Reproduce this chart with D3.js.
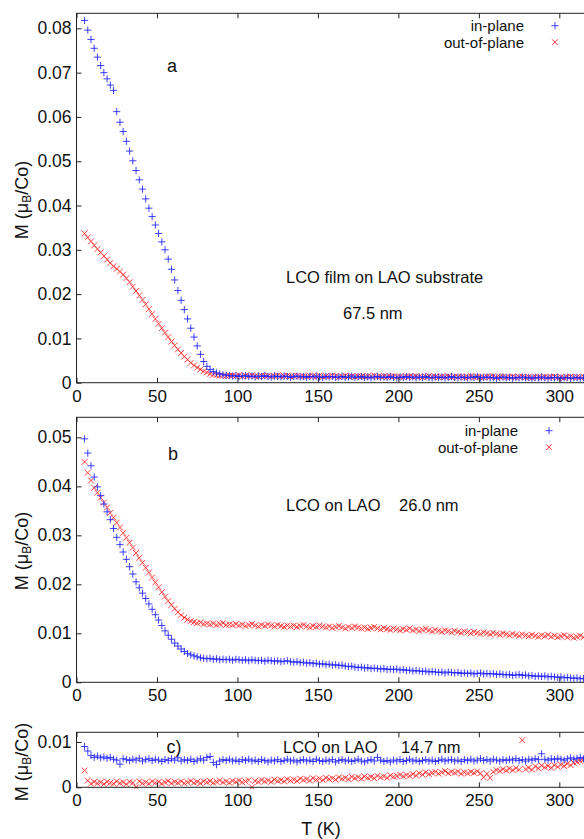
<!DOCTYPE html>
<html><head><meta charset="utf-8">
<script src="https://cdn.jsdelivr.net/npm/d3@7"></script>
<style>
html,body{margin:0;padding:0;background:#fff;}
svg{display:block;font-family:"Liberation Sans",Arial,Helvetica,sans-serif;}
</style></head>
<body><svg id="chart" width="584" height="839"></svg>
<script>
// ---- data ----
const tempK = [5,7,9,11,13,15,17,19,21,23,25,27,29,31,33,35,37,39,41,43,45,47,49,51,53,55,57,59,61,63,65,67,69,71,73,75,77,79,81,83,85,87,89,91,93,95,97,99,101,103,105,107,109,111,113,115,117,119,121,123,125,127,129,131,133,135,137,139,141,143,145,147,149,151,153,155,157,159,161,163,165,167,169,171,173,175,177,179,181,183,185,187,189,191,193,195,197,199,201,203,205,207,209,211,213,215,217,219,221,223,225,227,229,231,233,235,237,239,241,243,245,247,249,251,253,255,257,259,261,263,265,267,269,271,273,275,277,279,281,283,285,287,289,291,293,295,297,299,301,303,305,307,309,311,313,315];

// panel a: 67.5 nm
const aInPlane = [.0818,.0796,.0775,.0755,.0735,.0716,.0700,.0686,.0672,.0660,.0612,.0588,.0567,.0545,.0523,.0501,.0479,.0458,.0437,.0415,
.0394,.0375,.0356,.0337,.0318,.0300,.0279,.0256,.0232,.0208,.0186,.0165,.0144,.0123,.0103,.0083,.0064,.0048,.0037,.0030,
.0025,.0022,.0020,.0018,.0017,.0016,
.0015,.0016,.0014,.0015,.0016,.0014,.0015,.0013,.0015,.0014,.0016,.0014,.0013,.0015,.0014,.0013,.0015,.0014,.0012,.0014,
.0015,.0013,.0014,.0012,.0014,.0013,.0015,.0013,.0012,.0014,.0013,.0014,.0012,.0013,.0014,.0012,.0013,.0015,.0012,.0013,
.0014,.0012,.0013,.0011,.0013,.0014,.0012,.0013,.0012,.0014,.0012,.0011,.0013,.0012,.0014,.0012,.0013,.0011,.0013,.0012,
.0014,.0012,.0011,.0013,.0012,.0013,.0011,.0012,.0014,.0012,.0011,.0013,.0012,.0011,.0013,.0012,.0014,.0011,.0012,.0013,
.0011,.0012,.0010,.0012,.0013,.0011,.0012,.0010,.0012,.0011,.0013,.0011,.0012,.0010,.0012,.0011,.0013,.0011,.0010,.0012,
.0011,.0012,.0010,.0011,.0012,.0010,.0011,.0012,.0010,.0011];
const aOutOfPlane = [.0337,.0328,.0319,.0310,.0302,.0294,.0286,.0278,.0270,.0263,.0257,.0251,.0244,.0236,.0227,.0217,.0207,.0197,.0187,.0177,
.0166,.0155,.0144,.0133,.0123,.0113,.0103,.0093,.0084,.0075,.0067,.0059,.0052,.0045,.0039,.0034,.0030,.0026,.0023,.0020,
.0018,.0017,.0016,.0016,.0015,.0016,
.0016,.0015,.0017,.0014,.0016,.0015,.0017,.0015,.0014,.0016,.0015,.0016,.0014,.0015,.0017,.0014,.0015,.0016,.0014,.0015,
.0016,.0014,.0015,.0013,.0016,.0015,.0014,.0016,.0013,.0015,.0014,.0016,.0015,.0013,.0014,.0016,.0014,.0015,.0013,.0015,
.0014,.0013,.0015,.0014,.0016,.0013,.0014,.0015,.0013,.0014,.0015,.0013,.0014,.0012,.0015,.0014,.0013,.0015,.0014,.0012,
.0014,.0015,.0013,.0014,.0012,.0014,.0013,.0015,.0012,.0014,.0013,.0014,.0012,.0013,.0015,.0012,.0014,.0013,.0012,.0014,
.0013,.0015,.0012,.0013,.0014,.0012,.0013,.0014,.0012,.0013,.0014,.0012,.0013,.0011,.0014,.0013,.0012,.0014,.0012,.0013,
.0014,.0012,.0013,.0011,.0013,.0014,.0012,.0013,.0012,.0014];

// panel b: 26.0 nm
const bInPlane = [.0497,.0468,.0442,.0419,.0399,.0381,.0364,.0348,.0332,.0314,.0296,.0281,.0266,.0251,.0236,.0221,.0205,.0193,.0182,.0171,
.0160,.0149,.0138,.0127,.0116,.0105,.0096,.0088,.0080,.0074,.0068,.0063,.0059,.0056,.0054,.0052,.0050,.0049,.0048,.0049,
.0047,.0048,.0046,.0047,.0046,.0047,
.0045,.0047,.0046,.0045,.0046,.0044,.0046,.0045,.0044,.0045,.0043,.0045,.0044,.0043,.0044,.0042,.0043,.0044,.0042,.0041,
.0042,.0040,.0041,.0039,.0040,.0038,.0039,.0037,.0038,.0036,.0037,.0035,.0036,.0034,.0035,.0033,.0032,.0033,.0031,.0030,
.0031,.0029,.0030,.0028,.0029,.0028,.0027,.0028,.0026,.0027,.0026,.0027,.0025,.0026,.0024,.0025,.0023,.0024,.0023,.0022,
.0023,.0021,.0022,.0021,.0020,.0021,.0019,.0021,.0020,.0019,.0020,.0018,.0019,.0018,.0019,.0017,.0018,.0019,.0017,.0018,
.0017,.0018,.0016,.0017,.0016,.0015,.0016,.0014,.0015,.0016,.0014,.0015,.0013,.0014,.0012,.0013,.0012,.0013,.0011,.0012,
.0011,.0010,.0011,.0009,.0010,.0009,.0008,.0009,.0007,.0008];
const bOutOfPlane = [.0450,.0428,.0412,.0397,.0387,.0377,.0367,.0357,.0346,.0336,.0326,.0316,.0305,.0295,.0285,.0275,.0264,.0254,.0244,.0234,
.0224,.0214,.0204,.0194,.0184,.0175,.0166,.0158,.0150,.0143,.0137,.0132,.0128,.0125,.0123,.0121,.0122,.0119,.0120,.0118,
.0120,.0117,.0119,.0121,.0117,.0118,
.0117,.0119,.0116,.0118,.0115,.0117,.0119,.0116,.0114,.0117,.0115,.0118,.0116,.0114,.0117,.0115,.0113,.0116,.0114,.0116,
.0113,.0115,.0117,.0114,.0112,.0115,.0113,.0116,.0114,.0112,.0114,.0111,.0113,.0115,.0112,.0110,.0113,.0111,.0114,.0112,
.0110,.0112,.0109,.0111,.0113,.0110,.0108,.0111,.0109,.0107,.0110,.0108,.0106,.0109,.0107,.0110,.0106,.0108,.0105,.0107,
.0109,.0106,.0104,.0107,.0105,.0103,.0106,.0104,.0102,.0105,.0103,.0101,.0104,.0102,.0100,.0103,.0101,.0099,.0102,.0100,
.0098,.0101,.0099,.0097,.0100,.0098,.0096,.0099,.0097,.0095,.0098,.0096,.0094,.0097,.0095,.0093,.0096,.0094,.0097,.0093,
.0095,.0092,.0094,.0096,.0092,.0094,.0091,.0093,.0095,.0092];

// panel c: 14.7 nm
const cInPlane = [.0090,.0080,.0070,.0066,.0069,.0065,.0067,.0064,.0066,.0062,.0060,.0051,.0063,.0061,.0059,.0062,.0060,.0064,.0058,.0061,
.0063,.0059,.0062,.0060,.0057,.0061,.0059,.0063,.0060,.0065,.0058,.0061,.0059,.0062,.0057,.0060,.0063,.0060,.0066,.0068,
.0055,.0050,.0058,.0061,.0059,.0062,.0058,.0060,.0057,.0061,.0059,.0062,.0058,.0060,.0057,.0061,.0059,.0056,.0060,.0058,
.0061,.0057,.0059,.0062,.0058,.0060,.0056,.0059,.0061,.0058,.0060,.0057,.0062,.0059,.0057,.0060,.0058,.0061,.0056,.0059,
.0061,.0058,.0060,.0057,.0059,.0062,.0058,.0056,.0059,.0061,.0058,.0066,.0060,.0057,.0059,.0056,.0060,.0058,.0061,.0057,
.0059,.0062,.0058,.0060,.0057,.0059,.0061,.0058,.0060,.0057,.0059,.0062,.0058,.0060,.0061,.0058,.0060,.0057,.0061,.0059,
.0062,.0058,.0060,.0063,.0059,.0061,.0058,.0062,.0060,.0058,.0061,.0059,.0062,.0060,.0063,.0059,.0061,.0058,.0062,.0060,
.0063,.0061,.0074,.0062,.0060,.0063,.0061,.0064,.0062,.0060,.0063,.0065,.0062,.0064,.0066,.0063];
const cOutOfPlane = [.0037,.0015,.0008,.0012,.0009,.0011,.0007,.0012,.0010,.0008,.0013,.0009,.0011,.0007,.0012,.0010,.0000,.0013,.0009,.0011,
.0008,.0013,.0010,.0012,.0008,.0011,.0014,.0009,.0012,.0010,.0013,.0009,.0011,.0014,.0010,.0012,.0009,.0013,.0011,.0014,
.0010,.0012,.0015,.0011,.0013,.0010,.0014,.0012,.0015,.0011,.0013,.0016,.0000,.0014,.0012,.0016,.0013,.0015,.0012,.0017,
.0014,.0016,.0013,.0018,.0015,.0017,.0014,.0019,.0016,.0018,.0015,.0020,.0017,.0019,.0016,.0021,.0018,.0020,.0017,.0022,
.0019,.0021,.0018,.0023,.0020,.0022,.0019,.0024,.0021,.0023,.0020,.0025,.0022,.0024,.0021,.0026,.0023,.0025,.0028,.0024,
.0027,.0025,.0029,.0026,.0031,.0028,.0033,.0029,.0032,.0034,.0030,.0033,.0036,.0031,.0034,.0032,.0035,.0030,.0033,.0031,
.0034,.0032,.0035,.0031,.0022,.0030,.0021,.0034,.0038,.0036,.0040,.0037,.0041,.0038,.0042,.0039,.0104,.0040,.0043,.0039,
.0046,.0042,.0048,.0044,.0047,.0043,.0049,.0045,.0050,.0047,.0052,.0049,.0054,.0056,.0058,.0061];

const xTicks = [0,50,100,150,200,250,300];
const aYTicks = [0,.01,.02,.03,.04,.05,.06,.07,.08];
const bYTicks = [0,.01,.02,.03,.04,.05];
const cYTicks = [0,.01];
const seriesNames = ["in-plane","out-of-plane"];
const panelTags = ["a","b","c)"];
const sampleNotes = [["LCO film on LAO substrate","67.5 nm"],["LCO on LAO","26.0 nm"],["LCO on LAO","14.7 nm"]];
const xTitle = "T (K)";

// ---- drawing ----
const svg = d3.select("#chart");
const blue = "#1f1fff", red = "#ff2020";
const plusPath = "M-3.6,0H3.6M0,-3.6V3.6";
const crossPath = "M-2.9,-2.9L2.9,2.9M-2.9,2.9L2.9,-2.9";
const fmt = d => d === 0 ? "0" : d3.format(".2f")(d);
const xLeft = 76.5, xRight = 591.5;

const panels = [
  {top:13.3, bottom:382.7, ymax:.0834, yTicks:aYTicks, inp:aInPlane, outp:aOutOfPlane, legend:true, legX:524, legY:25.7,
   tag:[172,66], notes:[[286,277],[343,313]], titleY:200},
  {top:417.3, bottom:682.3, ymax:.0541, yTicks:bYTicks, inp:bInPlane, outp:bOutOfPlane, legend:true, legX:518, legY:430.7,
   tag:[173,454], notes:[[286,505],[399,505]], titleY:551},
  {top:732.3, bottom:787.3, ymax:.01214, yTicks:cYTicks, inp:cInPlane, outp:cOutOfPlane, legend:false,
   tag:[174,747], notes:[[283,747],[401,747]], titleY:762}
];

panels.forEach((p, pi) => {
  const x = d3.scaleLinear().domain([0,320]).range([xLeft, xRight]);
  const y = d3.scaleLinear().domain([0,p.ymax]).range([p.bottom, p.top]);
  const g = svg.append("g");
  const clipId = "clip" + pi;
  svg.append("clipPath").attr("id", clipId).append("rect")
    .attr("x", xLeft).attr("y", p.top - 2).attr("width", xRight - xLeft).attr("height", p.bottom - p.top + 4);

  // data
  const pts = g.append("g").attr("clip-path", `url(#${clipId})`);
  pts.selectAll("path.out").data(tempK.map((t,i)=>[t,p.outp[i]])).join("path")
    .attr("class","out").attr("d", crossPath)
    .attr("transform", d => `translate(${x(d[0])},${y(d[1])})`)
    .attr("stroke", red).attr("stroke-width", 1).attr("fill","none").attr("opacity",0.85);
  pts.selectAll("path.in").data(tempK.map((t,i)=>[t,p.inp[i]])).join("path")
    .attr("class","in").attr("d", plusPath)
    .attr("transform", d => `translate(${x(d[0])},${y(d[1])})`)
    .attr("stroke", blue).attr("stroke-width", 1).attr("fill","none").attr("opacity",0.85);

  // axes
  const ax = (fs) => (sel) => { sel.select(".domain").remove(); sel.selectAll("line").attr("stroke","#222"); sel.selectAll("text").attr("fill","#111").attr("font-size",fs).attr("font-family",'"Liberation Sans",Arial,sans-serif'); };
  g.append("g").attr("transform",`translate(0,${p.bottom})`)
    .call(d3.axisBottom(x).tickValues(xTicks).tickSize(-5).tickPadding(7).tickFormat(d3.format("d"))).call(ax("17px"));
  g.append("g").attr("transform",`translate(0,${p.top})`)
    .call(d3.axisTop(x).tickValues(xTicks).tickSize(-5).tickFormat("")).call(ax("17px"));
  g.append("g").attr("transform",`translate(${xLeft},0)`)
    .call(d3.axisLeft(y).tickValues(p.yTicks).tickSize(-5).tickPadding(5).tickFormat(fmt)).call(ax("17.5px"));
  g.append("g").attr("transform",`translate(${xRight},0)`)
    .call(d3.axisRight(y).tickValues(p.yTicks).tickSize(-5).tickFormat("")).call(ax("17px"));
  g.append("rect").attr("x", xLeft).attr("y", p.top).attr("width", xRight-xLeft).attr("height", p.bottom-p.top)
    .attr("fill","none").attr("stroke","#222").attr("stroke-width",1);

  // y title
  const yt = g.append("text").attr("transform",`translate(22,${p.titleY}) rotate(-90)`)
    .attr("text-anchor","middle").attr("dominant-baseline","central").attr("font-size","18px").attr("fill","#111");
  yt.append("tspan").text("M (μ");
  yt.append("tspan").attr("font-size","12px").attr("dy","5").text("B");
  yt.append("tspan").attr("dy","-5").text("/Co)");

  // annotations
  g.append("text").attr("x",p.tag[0]).attr("y",p.tag[1]).attr("text-anchor","middle").attr("dominant-baseline","central")
    .attr("font-size","18px").attr("fill","#111").text(panelTags[pi]);
  sampleNotes[pi].forEach((s, k) => {
    g.append("text").attr("x",p.notes[k][0]).attr("y",p.notes[k][1]).attr("dominant-baseline","central")
      .attr("font-size","16.5px").attr("fill","#111").text(s);
  });

  // legend
  if (p.legend) {
    seriesNames.forEach((nm, k) => {
      const ly = p.legY + k*16.5;
      g.append("text").attr("x", p.legX).attr("y", ly).attr("text-anchor","end").attr("dominant-baseline","central")
        .attr("font-size","15px").attr("fill","#111").text(nm);
      g.append("path").attr("d", k===0 ? plusPath : crossPath)
        .attr("transform", `translate(${p.legX+31},${ly})`)
        .attr("stroke", k===0 ? blue : red).attr("stroke-width",1).attr("fill","none").attr("opacity",0.85);
    });
  }
});

svg.append("text").attr("x",321).attr("y",829).attr("text-anchor","middle").attr("dominant-baseline","central")
  .attr("font-size","18px").attr("fill","#111").text(xTitle);
</script></body></html>
